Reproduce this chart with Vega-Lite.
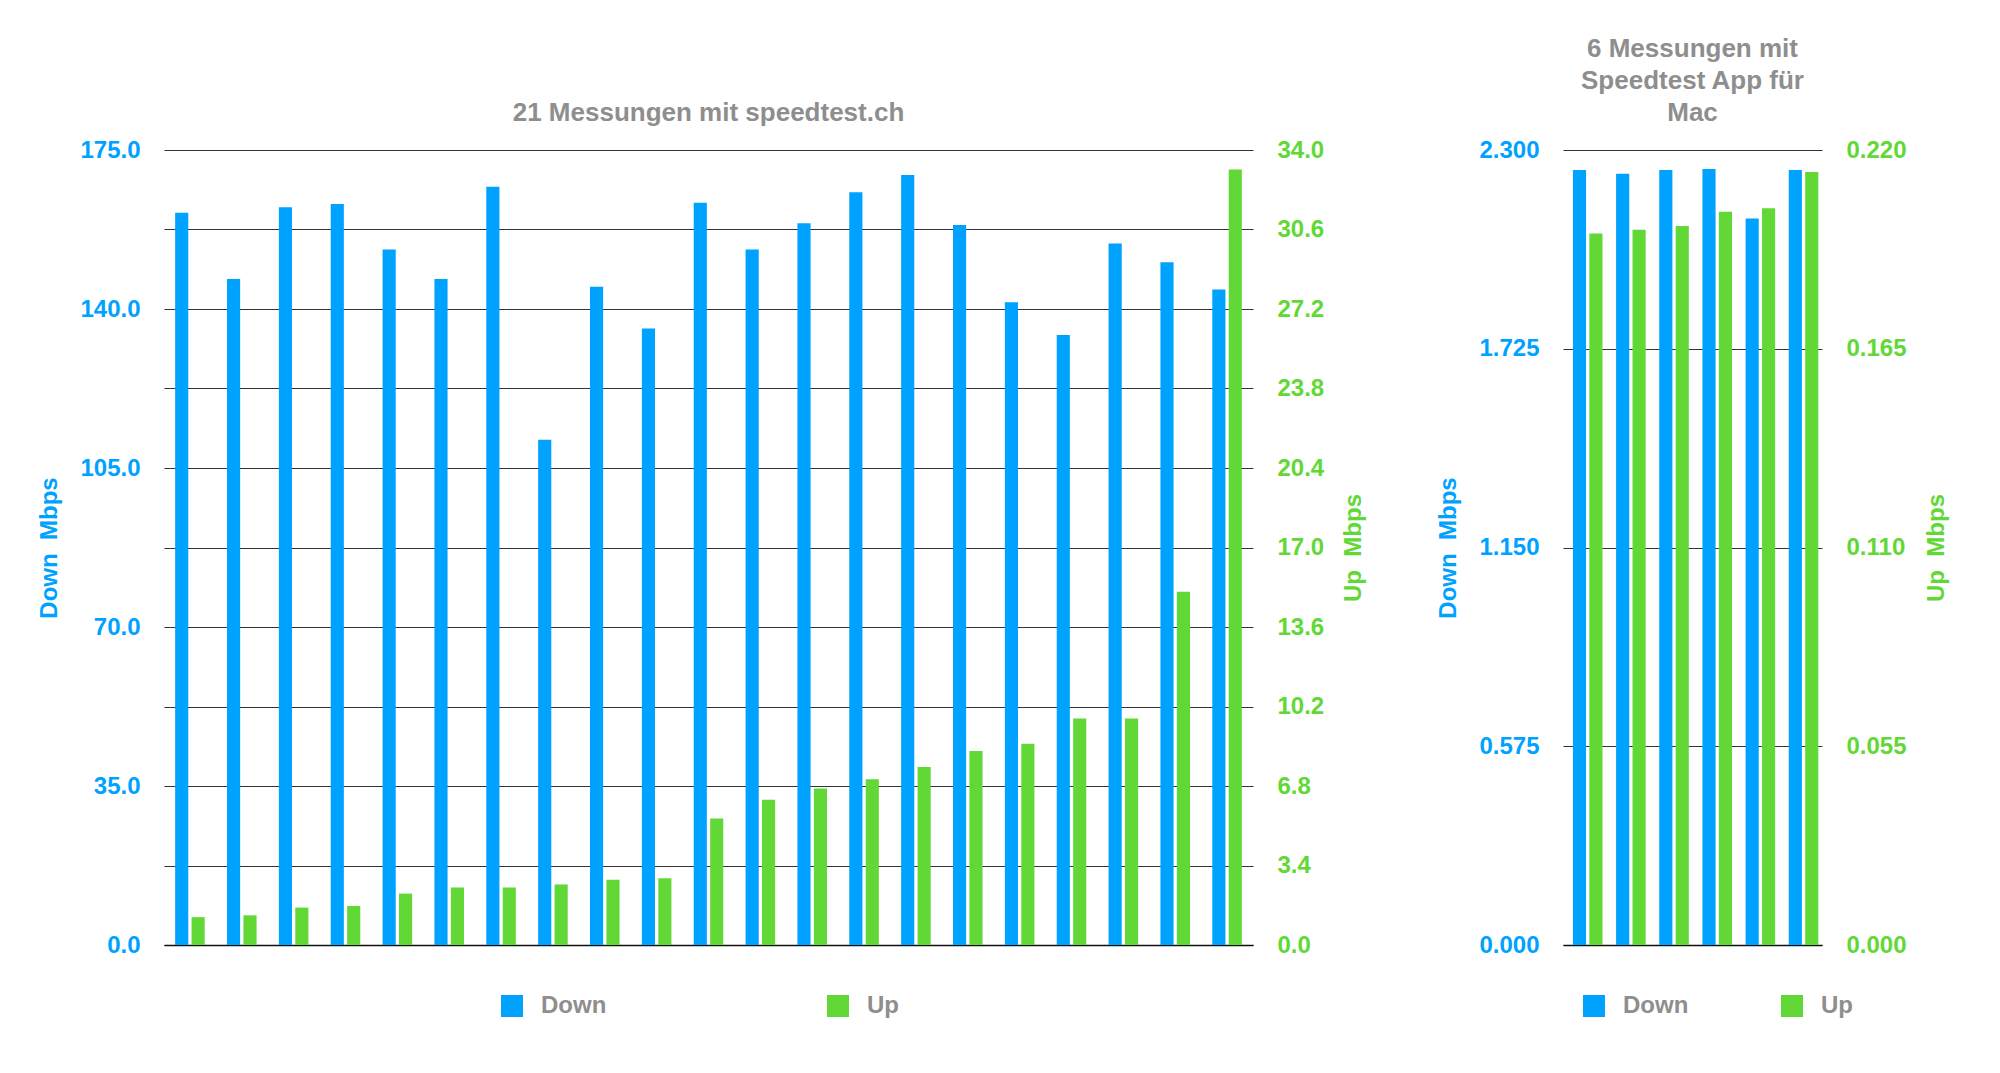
{
  "$schema": "https://vega.github.io/schema/vega-lite/v6.json",
  "background": "white",
  "padding": {"left": 37, "top": 36, "right": 5, "bottom": 5},
  "spacing": 70,
  "config": {
    "font": "Liberation Sans",
    "view": {"stroke": null},
    "title": {"fontSize": 26, "fontWeight": "bold", "color": "#8E8E8E", "lineHeight": 32, "anchor": "middle", "frame": "group", "offset": 12},
    "axis": {"labelFontSize": 24, "labelFontWeight": "bold", "titleFontSize": 24, "titleFontWeight": "bold", "ticks": false, "domain": false, "labelPadding": 24, "titlePadding": 18, "gridColor": "#333333", "gridWidth": 1.2, "gridOpacity": 1},
    "legend": {"orient": "none", "direction": "horizontal", "title": null, "symbolType": "square", "symbolSize": 484, "symbolStrokeWidth": 0, "symbolOpacity": 1, "labelFontSize": 24, "labelFontWeight": "bold", "labelColor": "#8E8E8E", "labelOffset": 17, "legendY": 844}
  },
  "datasets": {
    "speedtest": [
      {"n": 1, "series": "Down", "value": 161.2}, {"n": 2, "series": "Down", "value": 146.6}, {"n": 3, "series": "Down", "value": 162.4},
      {"n": 4, "series": "Down", "value": 163.1}, {"n": 5, "series": "Down", "value": 153.1}, {"n": 6, "series": "Down", "value": 146.6},
      {"n": 7, "series": "Down", "value": 166.9}, {"n": 8, "series": "Down", "value": 111.2}, {"n": 9, "series": "Down", "value": 144.9},
      {"n": 10, "series": "Down", "value": 135.7}, {"n": 11, "series": "Down", "value": 163.4}, {"n": 12, "series": "Down", "value": 153.1},
      {"n": 13, "series": "Down", "value": 158.9}, {"n": 14, "series": "Down", "value": 165.7}, {"n": 15, "series": "Down", "value": 169.5},
      {"n": 16, "series": "Down", "value": 158.5}, {"n": 17, "series": "Down", "value": 141.5}, {"n": 18, "series": "Down", "value": 134.3},
      {"n": 19, "series": "Down", "value": 154.4}, {"n": 20, "series": "Down", "value": 150.3}, {"n": 21, "series": "Down", "value": 144.3},
      {"n": 1, "series": "Up", "value": 1.19}, {"n": 2, "series": "Up", "value": 1.27}, {"n": 3, "series": "Up", "value": 1.6},
      {"n": 4, "series": "Up", "value": 1.67}, {"n": 5, "series": "Up", "value": 2.2}, {"n": 6, "series": "Up", "value": 2.46},
      {"n": 7, "series": "Up", "value": 2.46}, {"n": 8, "series": "Up", "value": 2.59}, {"n": 9, "series": "Up", "value": 2.79},
      {"n": 10, "series": "Up", "value": 2.86}, {"n": 11, "series": "Up", "value": 5.41}, {"n": 12, "series": "Up", "value": 6.21},
      {"n": 13, "series": "Up", "value": 6.69}, {"n": 14, "series": "Up", "value": 7.09}, {"n": 15, "series": "Up", "value": 7.61},
      {"n": 16, "series": "Up", "value": 8.3}, {"n": 17, "series": "Up", "value": 8.61}, {"n": 18, "series": "Up", "value": 9.69},
      {"n": 19, "series": "Up", "value": 9.69}, {"n": 20, "series": "Up", "value": 15.11}, {"n": 21, "series": "Up", "value": 33.17}
    ],
    "app": [
      {"n": 1, "series": "Down", "value": 2.242}, {"n": 2, "series": "Down", "value": 2.231}, {"n": 3, "series": "Down", "value": 2.242},
      {"n": 4, "series": "Down", "value": 2.245}, {"n": 5, "series": "Down", "value": 2.102}, {"n": 6, "series": "Down", "value": 2.242},
      {"n": 1, "series": "Up", "value": 0.1969}, {"n": 2, "series": "Up", "value": 0.1979}, {"n": 3, "series": "Up", "value": 0.199},
      {"n": 4, "series": "Up", "value": 0.2029}, {"n": 5, "series": "Up", "value": 0.2039}, {"n": 6, "series": "Up", "value": 0.2139}
    ]
  },
  "hconcat": [
    {
      "title": {"text": "21 Messungen mit speedtest.ch"},
      "width": 1089,
      "height": 795,
      "data": {"name": "speedtest"},
      "encoding": {
        "x": {"field": "n", "type": "ordinal", "scale": {"paddingInner": 0.43, "paddingOuter": 0.215},
              "axis": {"title": null, "labels": false, "ticks": false, "domain": true, "domainColor": "#111111", "domainWidth": 1.5, "grid": false}},
        "xOffset": {"field": "series", "type": "nominal", "scale": {"domain": ["Down", "Up"], "paddingInner": 0.2}},
        "color": {"field": "series", "type": "nominal", "scale": {"domain": ["Down", "Up"], "range": ["#00A2FF", "#61D836"]},
                  "legend": {"legendX": 336, "columnPadding": 219}}
      },
      "layer": [
        {
          "transform": [{"filter": "datum.series === 'Down'"}],
          "mark": {"type": "bar"},
          "encoding": {
            "y": {"field": "value", "type": "quantitative", "scale": {"domain": [0, 175], "nice": false, "zero": true},
                  "axis": {"orient": "left", "values": [0, 35, 70, 105, 140, 175], "format": ".1f", "grid": false,
                           "title": "Down \u00a0Mbps", "labelColor": "#00A2FF", "titleColor": "#00A2FF"}}
          }
        },
        {
          "transform": [{"filter": "datum.series === 'Up'"}],
          "mark": {"type": "bar"},
          "encoding": {
            "y": {"field": "value", "type": "quantitative", "scale": {"domain": [0, 34], "nice": false, "zero": true},
                  "axis": {"orient": "right", "values": [0, 3.4, 6.8, 10.2, 13.6, 17, 20.4, 23.8, 27.2, 30.6, 34], "format": ".1f", "grid": true,
                           "title": "Up \u00a0Mbps", "titleAngle": 270, "titleBaseline": "top", "labelColor": "#61D836", "titleColor": "#61D836"}}
          }
        }
      ],
      "resolve": {"scale": {"y": "independent"}}
    },
    {
      "title": {"text": ["6 Messungen mit", "Speedtest App für", "Mac"]},
      "width": 259,
      "height": 795,
      "data": {"name": "app"},
      "encoding": {
        "x": {"field": "n", "type": "ordinal", "scale": {"paddingInner": 0.46, "paddingOuter": 0.23},
              "axis": {"title": null, "labels": false, "ticks": false, "domain": true, "domainColor": "#111111", "domainWidth": 1.5, "grid": false}},
        "xOffset": {"field": "series", "type": "nominal", "scale": {"domain": ["Down", "Up"], "paddingInner": 0.16}},
        "color": {"field": "series", "type": "nominal", "scale": {"domain": ["Down", "Up"], "range": ["#00A2FF", "#61D836"]},
                  "legend": {"legendX": 19, "columnPadding": 91}}
      },
      "layer": [
        {
          "transform": [{"filter": "datum.series === 'Down'"}],
          "mark": {"type": "bar"},
          "encoding": {
            "y": {"field": "value", "type": "quantitative", "scale": {"domain": [0, 2.3], "nice": false, "zero": true},
                  "axis": {"orient": "left", "values": [0, 0.575, 1.15, 1.725, 2.3], "format": ".3f", "grid": false,
                           "title": "Down \u00a0Mbps", "labelColor": "#00A2FF", "titleColor": "#00A2FF"}}
          }
        },
        {
          "transform": [{"filter": "datum.series === 'Up'"}],
          "mark": {"type": "bar"},
          "encoding": {
            "y": {"field": "value", "type": "quantitative", "scale": {"domain": [0, 0.22], "nice": false, "zero": true},
                  "axis": {"orient": "right", "values": [0, 0.055, 0.11, 0.165, 0.22], "format": ".3f", "grid": true,
                           "title": "Up \u00a0Mbps", "titleAngle": 270, "titleBaseline": "top", "labelColor": "#61D836", "titleColor": "#61D836"}}
          }
        }
      ],
      "resolve": {"scale": {"y": "independent"}}
    }
  ],
  "resolve": {"scale": {"color": "independent"}, "legend": {"color": "independent"}}
}
